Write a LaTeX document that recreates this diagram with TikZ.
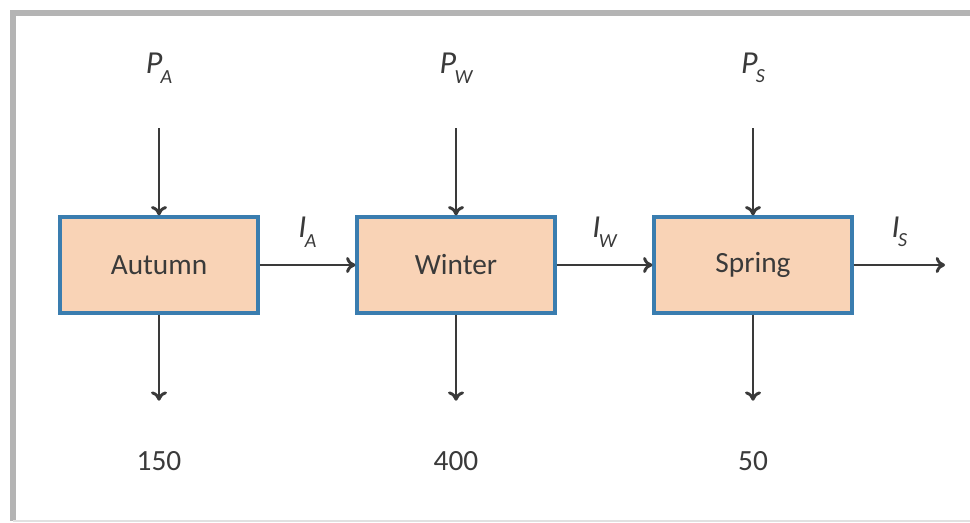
\documentclass[tikz,border=0pt]{standalone}
\usepackage{fontspec}
\setmainfont{Carlito}
\usetikzlibrary{shapes,arrows,arrows.meta}

\definecolor{boxfill}{HTML}{F9D3B6}
\definecolor{boxline}{HTML}{3A7DAF}
\definecolor{inkgray}{HTML}{3A3A3A}
\definecolor{framegray}{HTML}{B4B4B4}

% subscript for the flow labels
\newcommand{\flowsub}[1]{\kern-.05em\raisebox{-.3em}{\fontsize{15}{17}\selectfont #1}}

\begin{document}
\begin{tikzpicture}[x=0.75pt, y=-0.75pt, node distance = 222.75pt, auto]
				\tikzstyle{block} = [rectangle, draw=boxline, line width=2.4pt, fill=boxfill, text=inkgray, minimum width=148.5pt, minimum height=72pt, font=\fontsize{22}{26}\selectfont]
				\tikzstyle{flow} = [text=inkgray, minimum height=90pt, inner sep=0pt, font=\fontsize{22}{26}\selectfont]
				\tikzstyle{line} = [draw, color=inkgray, line width=2.2pt, -{To[length=7pt,width=12pt]}]
				
				% frame
				\useasboundingbox (0,0) rectangle (970,523);
				\draw [framegray, line width=4pt] (13,521) -- (13,13) -- (975,13);
				\draw [framegray!40, line width=1.5pt] (13,521) -- (975,521);
				
				\node [block] (autumn) at (159,265) {Autumn};
				\node [block, right of=autumn] (winter) {Winter};
				\node [block, right of=winter] (spring) {Spring};
				
				\node [flow, above of=autumn, node distance=147.75pt] (pa) {\fontsize{24}{28}\selectfont\textit{P\flowsub{A}}};
				\node [flow, above of=winter, node distance=147.75pt] (pw) {\fontsize{24}{28}\selectfont\textit{P\flowsub{W}}};
				\node [flow, above of=spring, node distance=147.75pt] (ps) {\fontsize{24}{28}\selectfont\textit{P\flowsub{S}}};
				
				\node [flow, below of=autumn, node distance=147pt] (ya) {150};
				\node [flow, below of=winter, node distance=147pt] (yw) {400};
				\node [flow, below of=spring, node distance=147pt] (ys) {50};
				
				\coordinate (out) at (945,265);
				
				\path [line] (pa) -- (autumn);
				\path [line] (pw) -- (winter);
				\path [line] (ps) -- (spring);
				\path [line] (autumn) -- (ya);
				\path [line] (winter) -- (yw);
				\path [line] (spring) -- (ys);
				
				\path [line] (autumn) -- node [text=inkgray, above=9pt, font=\fontsize{24}{28}\selectfont] (ia) {\textit{I\flowsub{A}}} (winter);
				\path [line] (winter) -- node [text=inkgray, above=9pt, font=\fontsize{24}{28}\selectfont] (iw) {\textit{I\flowsub{W}}} (spring);
				\path [line] (spring) -- node [text=inkgray, above=9pt, font=\fontsize{24}{28}\selectfont] (is) {\textit{I\flowsub{S}}} (out);
				
			\end{tikzpicture}
\end{document}
